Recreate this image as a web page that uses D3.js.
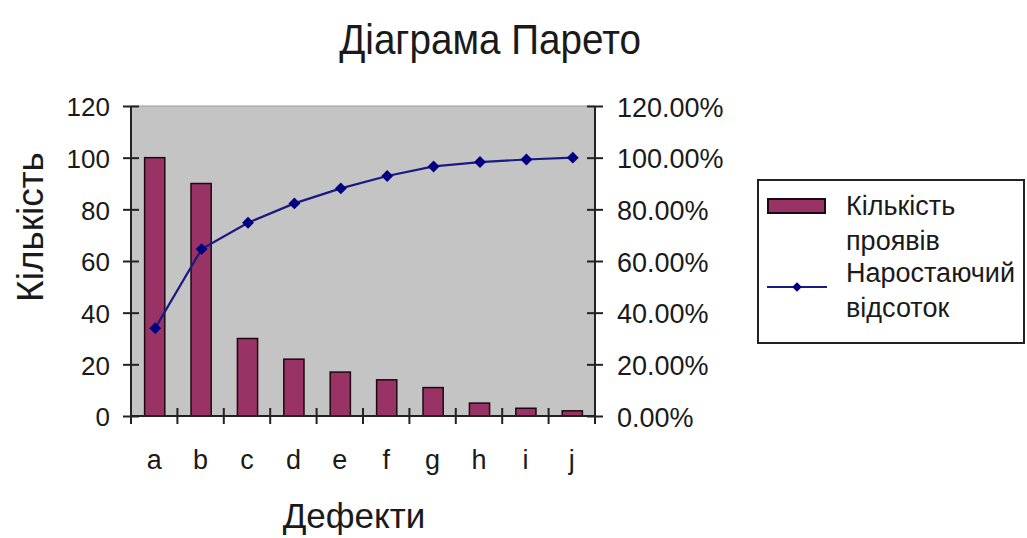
<!DOCTYPE html>
<html><head><meta charset="utf-8">
<script src="https://cdn.jsdelivr.net/npm/d3@7"></script>
<style>
body{margin:0;background:#fff;}
svg{display:block;}
text{font-family:"Liberation Sans",Arial,sans-serif;fill:#1a1a1a;}
</style></head>
<body><svg id="c" width="1027" height="538"></svg>
<script>
const categories = ["a","b","c","d","e","f","g","h","i","j"];
const counts = [100, 90, 30, 22, 17, 14, 11, 5, 3, 2];
const cumulativePct = [0.34, 0.646, 0.748, 0.823, 0.881, 0.929, 0.966, 0.983, 0.993, 1.0];
const leftTicks = [0, 20, 40, 60, 80, 100, 120];
const rightTicks = [0, 0.2, 0.4, 0.6, 0.8, 1.0, 1.2];
const title = "Діаграма Парето";
const xTitle = "Дефекти";
const yTitle = "Кількість";
const legendLabels = [["Кількість","проявів"],["Наростаючий","відсоток"]];

const svg = d3.select("#c");
const L = 131, R = 595, T = 106, B = 416;
const x = d3.scaleBand().domain(categories).range([L, R]).padding(0);
const y = d3.scaleLinear().domain([0, 120]).range([B, T]);
const y2 = d3.scaleLinear().domain([0, 1.2]).range([B, T]);

// plot background
svg.append("rect").attr("x", L).attr("y", T).attr("width", R - L).attr("height", B - T)
  .attr("fill", "#c4c4c4").attr("stroke", "#9a9a9a").attr("stroke-width", 1);

// bars
const bw = x.bandwidth() / 2.3;
svg.append("g").selectAll("rect").data(counts).join("rect")
  .attr("x", (d, i) => x(categories[i]) + (x.bandwidth() - bw) / 2 + 0.5)
  .attr("y", d => y(d))
  .attr("width", bw)
  .attr("height", d => B - y(d))
  .attr("fill", "#993366").attr("stroke", "#1a0a10").attr("stroke-width", 1.5);

// left axis
const tk = 8;
const gl = svg.append("g").attr("transform", `translate(${L},0)`)
  .call(d3.axisLeft(y).tickValues(leftTicks).tickSize(tk).tickPadding(13).tickFormat(d3.format("d")));
gl.selectAll(".tick line").attr("x2", -tk).attr("x1", tk);
// right axis
const gr = svg.append("g").attr("transform", `translate(${R},0)`)
  .call(d3.axisRight(y2).tickValues(rightTicks).tickSize(tk).tickPadding(14).tickFormat(d3.format(".2%")));
gr.selectAll(".tick line").attr("x1", -tk);
// bottom axis
const gb = svg.append("g").attr("transform", `translate(0,${B})`)
  .call(d3.axisBottom(x).tickSize(0).tickPadding(34));
gb.selectAll(".tick line").remove();
const bounds = categories.map(c => x(c)).concat([R]);
gb.selectAll("line.bt").data(bounds).join("line").attr("class","bt")
  .attr("x1", d => d).attr("x2", d => d).attr("y1", -tk).attr("y2", tk)
  .attr("stroke", "#222").attr("stroke-width", 2);

[gl, gr, gb].forEach(g => {
  g.select(".domain").attr("stroke", "#222").attr("stroke-width", 2);
  g.selectAll(".tick line").attr("stroke", "#222").attr("stroke-width", 2);
  g.selectAll("text").style("font-family", '"Liberation Sans",Arial,sans-serif').attr("fill", "#222");
});
gl.selectAll("text").style("font-size", "26px").attr("dy", "0.38em");
gr.selectAll("text").style("font-size", "27px").attr("dy", "0.38em");
gb.selectAll("text").style("font-size", "27px");
gl.select(".domain").attr("d", `M0,${B}V${T}`);
gr.select(".domain").attr("d", `M0,${B}V${T}`);
gb.select(".domain").attr("d", `M${L},0H${R}`);

// line
const cx = i => x(categories[i]) + x.bandwidth() / 2 + 1;
const line = d3.line().x((d, i) => cx(i)).y(d => y2(d));
svg.append("path").datum(cumulativePct).attr("d", line)
  .attr("fill", "none").attr("stroke", "#1a1a80").attr("stroke-width", 2.2);
const diamond = d3.symbol().type(d3.symbolDiamond2).size(90);
svg.append("g").selectAll("path").data(cumulativePct).join("path")
  .attr("d", diamond)
  .attr("transform", (d, i) => `translate(${cx(i)},${y2(d)})`)
  .attr("fill", "#000080");

// titles
svg.append("text").attr("transform", "translate(490,54) scale(0.92,1)").attr("text-anchor", "middle")
  .style("font-size", "42px").text(title);
svg.append("text").attr("x", 354).attr("y", 528).attr("text-anchor", "middle")
  .style("font-size", "35px").text(xTitle);
svg.append("text").attr("transform", "translate(43,227) rotate(-90)").attr("text-anchor", "middle")
  .style("font-size", "37px").text(yTitle);

// legend
const lg = svg.append("g");
lg.append("rect").attr("x", 758).attr("y", 180).attr("width", 266).attr("height", 163)
  .attr("fill", "#fff").attr("stroke", "#222").attr("stroke-width", 2);
lg.append("rect").attr("x", 768).attr("y", 199).attr("width", 57).attr("height", 14)
  .attr("fill", "#993366").attr("stroke", "#1a0a10").attr("stroke-width", 2);
lg.append("line").attr("x1", 767).attr("x2", 827).attr("y1", 287).attr("y2", 287)
  .attr("stroke", "#1a1a80").attr("stroke-width", 2);
lg.append("path").attr("d", d3.symbol().type(d3.symbolDiamond2).size(60))
  .attr("transform", "translate(797,287)").attr("fill", "#000080");
const lyStart = [215, 282];
legendLabels.forEach((lines, k) => {
  lines.forEach((t, j) => {
    lg.append("text").attr("x", 846).attr("y", lyStart[k] + j * 35)
      .style("font-size", "27px").text(t);
  });
});
</script></body></html>
